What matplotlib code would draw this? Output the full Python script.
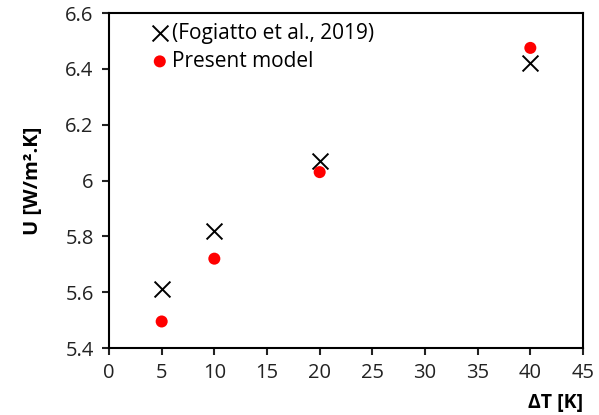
import matplotlib
matplotlib.use("Agg")
import matplotlib.pyplot as plt

plt.rcParams['font.family'] = ['Open Sans', 'DejaVu Sans']

delta_t = [5, 10, 20, 40]
u_fogiatto = [5.61, 5.82, 6.07, 6.42]
u_present = [5.495, 5.72, 6.03, 6.475]

x_ticks = [0, 5, 10, 15, 20, 25, 30, 35, 40, 45]
y_ticks = [5.4, 5.6, 5.8, 6.0, 6.2, 6.4, 6.6]
y_tick_labels = ['5.4', '5.6', '5.8', '6', '6.2', '6.4', '6.6']

fig = plt.figure(figsize=(5.99, 4.15), dpi=100)
ax = fig.add_axes([109/599, 1 - 348/415, (583-109)/599, (348-13)/415])

ax.scatter(delta_t, u_fogiatto, marker='x', s=130, color='black', linewidths=1.4,
           label='(Fogiatto et al., 2019)', zorder=3)
ax.scatter(delta_t, u_present, marker='o', s=75, color='#ff0000', edgecolors='none',
           label='Present model', zorder=3)

ax.set_xlim(0, 45)
ax.set_ylim(5.4, 6.6)
ax.set_xticks(x_ticks)
ax.set_yticks(y_ticks)
ax.set_yticklabels(y_tick_labels)
ax.tick_params(axis='both', direction='out', length=5, width=1.5, labelsize=14.5,
               colors='#222222', pad=6)

for sp in ax.spines.values():
    sp.set_linewidth(1.5)
    sp.set_color('black')

ax.set_ylabel('U [W/m².K]', fontsize=14.5, fontweight='bold', labelpad=16)
ax.set_xlabel('ΔT [K]', fontsize=14, fontweight='bold')
ax.xaxis.set_label_coords(1.0, -0.135)
ax.xaxis.label.set_horizontalalignment('right')

ax.legend(loc='upper left', bbox_to_anchor=(0.05, 1.015), frameon=False, fontsize=15,
          handletextpad=0.0, borderaxespad=0.3, labelspacing=0.35, handlelength=1.2)

fig.savefig('out.png', dpi=100)
